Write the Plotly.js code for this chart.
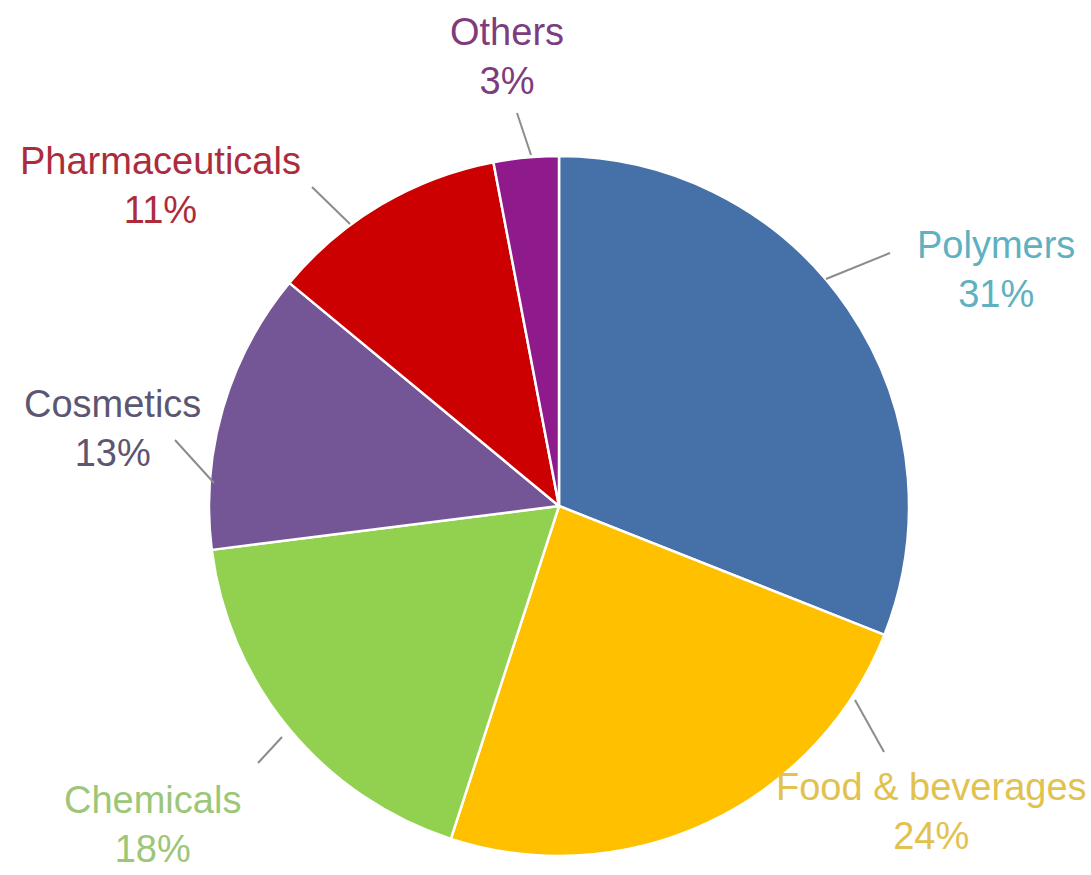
<!DOCTYPE html>
<html>
<head>
<meta charset="utf-8">
<script src="https://cdn.plot.ly/plotly-3.0.1.min.js"></script>
<style>html,body{margin:0;padding:0;background:#fff;}#chart{width:1091px;height:875px;}</style>
</head>
<body>
<div id="chart"></div>
<script>
const categories = ["Polymers", "Food & beverages", "Chemicals", "Cosmetics", "Pharmaceuticals", "Others"];
const shares = [31, 24, 18, 13, 11, 3];
const sliceColors = ["#4571A8", "#FFC000", "#92D050", "#745697", "#CC0000", "#8E1A8C"];
const labelColors = ["#5FB0C0", "#E2C24E", "#9CC678", "#5C5672", "#AC2C3C", "#7E3C80"];
// label centres & leader lines in pixel space (layout only)
const labelPos = [[996, 269], [931, 811], [152, 824], [112, 428], [160, 185], [507, 56]];
const leaders = [[[890, 253], [826, 279]], [[884, 752], [855, 700]], [[258, 763], [282, 737]], [[175, 440], [214, 483]], [[312, 187], [350, 224]], [[517, 113], [531, 155]]];

const W = 1091, H = 875;
const cx = 559, cy = 506, r = 350;

const pie = {
  type: "pie",
  labels: categories,
  values: shares,
  sort: false,
  direction: "clockwise",
  rotation: 0,
  marker: {colors: sliceColors, line: {color: "#ffffff", width: 2.5}},
  textinfo: "none",
  hoverinfo: "none",
  showlegend: false,
  domain: {x: [(cx - r) / W, (cx + r) / W], y: [1 - (cy + r) / H, 1 - (cy - r) / H]}
};

const annotations = categories.map((c, i) => ({
  x: labelPos[i][0], y: labelPos[i][1], xref: "x", yref: "y",
  text: c + "<br>" + shares[i] + "%",
  showarrow: false, xanchor: "center", yanchor: "middle", align: "center",
  font: {family: "Liberation Sans, Arial, sans-serif", size: 38, color: labelColors[i]}
}));

const shapes = leaders.map(l => ({
  type: "line", xref: "x", yref: "y",
  x0: l[0][0], y0: l[0][1], x1: l[1][0], y1: l[1][1],
  line: {color: "#8c8c8c", width: 2}
}));

const layout = {
  width: W, height: H,
  margin: {l: 0, r: 0, t: 0, b: 0},
  paper_bgcolor: "#ffffff", plot_bgcolor: "rgba(0,0,0,0)",
  xaxis: {range: [0, W], visible: false, fixedrange: true},
  yaxis: {range: [H, 0], visible: false, fixedrange: true},
  annotations: annotations,
  shapes: shapes,
  hovermode: false
};

Plotly.newPlot("chart", [pie], layout, {displayModeBar: false, staticPlot: true});
</script>
</body>
</html>
